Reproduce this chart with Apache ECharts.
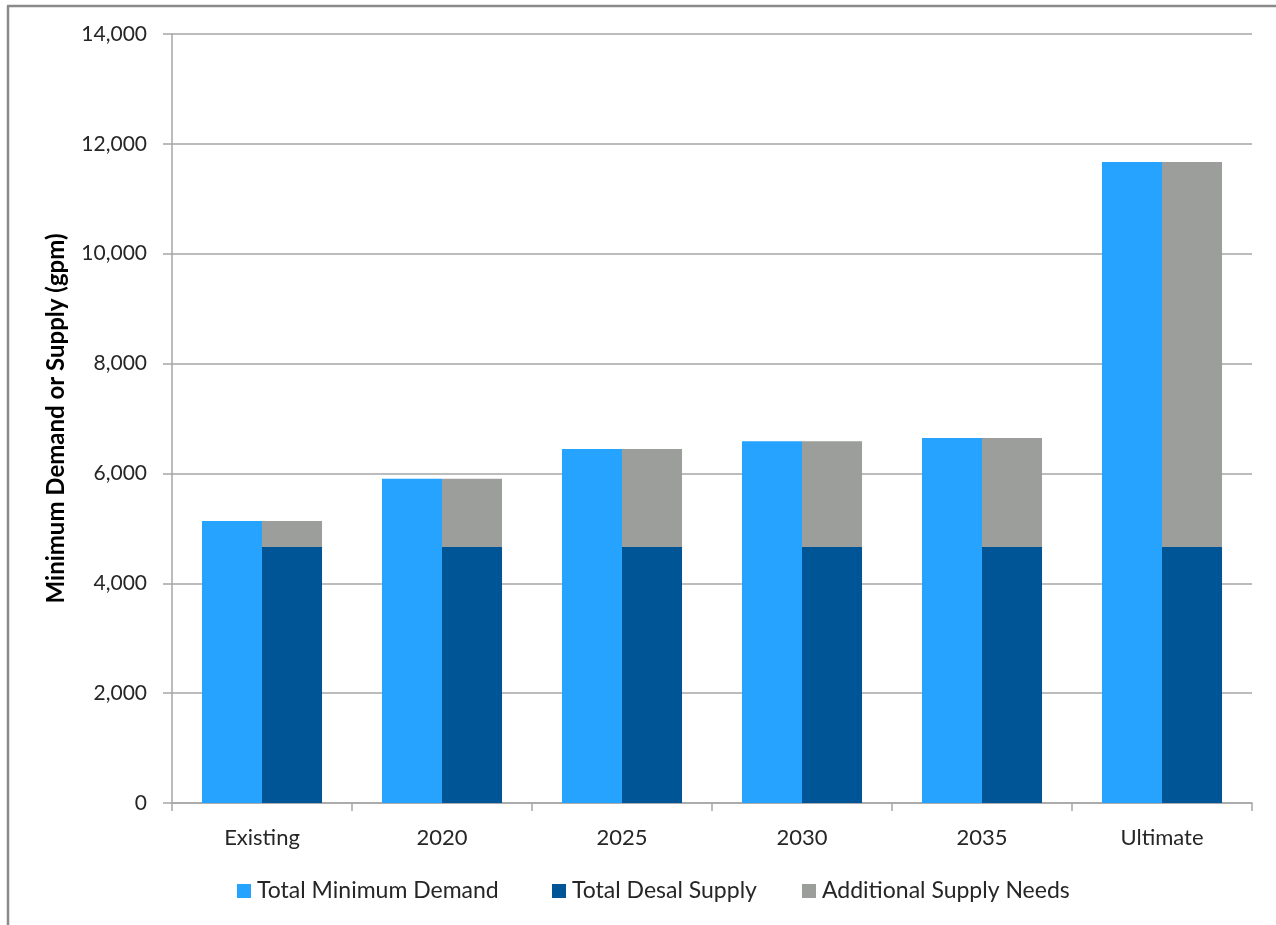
<!DOCTYPE html>
<html>
<head>
<meta charset="utf-8">
<title>Minimum Demand and Supply</title>
<script src="https://cdn.jsdelivr.net/npm/echarts@6/dist/echarts.min.js"></script>
<style>
  html, body { margin: 0; padding: 0; background: #ffffff; }
  #chart { width: 1276px; height: 925px; }
</style>
</head>
<body>
<div id="chart"></div>
<script>
// Planning horizons along the x axis
const categories = ['Existing', '2020', '2025', '2030', '2035', 'Ultimate'];

// Flows in gallons per minute
const totalMinimumDemand = [5134, 5904, 6445, 6585, 6645, 11670];
const totalDesalSupply = [4660, 4660, 4660, 4660, 4660, 4660];
const additionalSupplyNeeds = [474, 1244, 1785, 1925, 1985, 7010];

// Value axis ticks
const yMin = 0;
const yMax = 14000;
const yStep = 2000;

const FONT = 'Lato, "Open Sans", "Liberation Sans", sans-serif';
const TEXT = '#262626';
const GRID = '#a6a6a6';

const COLORS = {
  demand: '#26a2ff',
  desal: '#005597',
  additional: '#9c9e9b'
};

const chart = echarts.init(document.getElementById('chart'), null, { renderer: 'canvas' });

// One legend block per series so each entry sits at its own spot in the row
function legendEntry(name, left) {
  return {
    data: [name],
    left: left,
    top: 874,
    orient: 'horizontal',
    itemWidth: 14,
    itemHeight: 14,
    itemGap: 0,
    icon: 'rect',
    textStyle: { fontFamily: FONT, fontSize: 23, lineHeight: 24, color: TEXT, padding: [0, 0, 0, 1] }
  };
}

chart.setOption({
  animation: false,
  backgroundColor: '#ffffff',
  textStyle: { fontFamily: FONT, color: TEXT },
  grid: { left: 172, right: 24, top: 34, bottom: 122, containLabel: false },
  legend: [
    legendEntry('Total Minimum Demand', 232),
    legendEntry('Total Desal Supply', 547),
    legendEntry('Additional Supply Needs', 797)
  ],
  xAxis: {
    type: 'category',
    data: categories,
    axisLine: { show: true, lineStyle: { color: GRID, width: 1.5 } },
    axisTick: { show: true, length: 8, lineStyle: { color: GRID, width: 1.5 } },
    axisLabel: { fontFamily: FONT, fontSize: 22, color: TEXT, margin: 24 }
  },
  yAxis: {
    type: 'value',
    min: yMin,
    max: yMax,
    interval: yStep,
    name: 'Minimum Demand or Supply (gpm)',
    nameLocation: 'middle',
    nameRotate: 90,
    nameGap: 104,
    nameTextStyle: { fontFamily: FONT, fontSize: 24, fontWeight: 'bold', color: '#000000' },
    axisLine: { show: true, lineStyle: { color: GRID, width: 1.5 } },
    axisTick: { show: true, length: 9, lineStyle: { color: GRID, width: 1.5 } },
    axisLabel: {
      fontFamily: FONT, fontSize: 21, color: TEXT, margin: 25,
      formatter: v => v.toLocaleString('en-US')
    },
    splitLine: { show: true, lineStyle: { color: GRID, width: 1.5 } }
  },
  series: [
    {
      name: 'Total Minimum Demand',
      type: 'bar',
      stack: 'demand',
      data: totalMinimumDemand,
      barGap: '0%',
      barCategoryGap: '33.3%',
      itemStyle: { color: COLORS.demand }
    },
    {
      name: 'Total Desal Supply',
      type: 'bar',
      stack: 'supply',
      data: totalDesalSupply,
      itemStyle: { color: COLORS.desal }
    },
    {
      name: 'Additional Supply Needs',
      type: 'bar',
      stack: 'supply',
      data: additionalSupplyNeeds,
      itemStyle: { color: COLORS.additional }
    }
  ],
  graphic: [
    { type: 'line', shape: { x1: 7, y1: 6, x2: 1276, y2: 6 }, style: { stroke: '#8a8a8a', lineWidth: 2.5 }, silent: true },
    { type: 'line', shape: { x1: 8, y1: 6, x2: 8, y2: 925 }, style: { stroke: '#8a8a8a', lineWidth: 2.5 }, silent: true }
  ]
});
</script>
</body>
</html>
